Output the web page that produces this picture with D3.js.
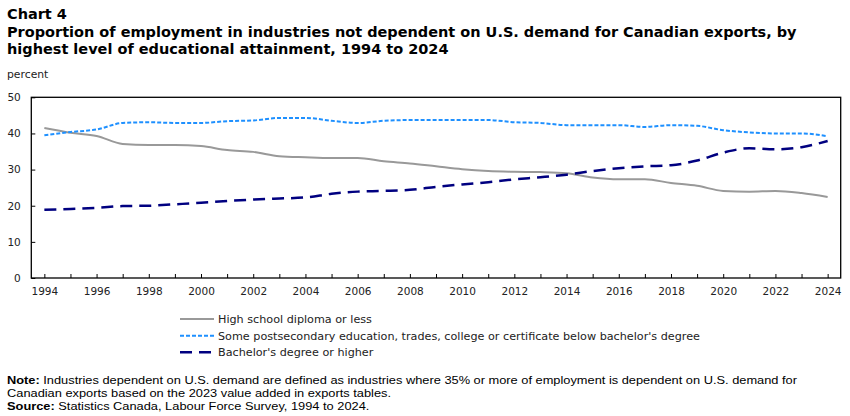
<!DOCTYPE html>
<html>
<head>
<meta charset="utf-8">
<script src="https://cdn.jsdelivr.net/npm/d3@7"></script>
<style>
  html, body { margin: 0; padding: 0; background: #fff; }
  svg { display: block; }
  .axis text { font-family: "DejaVu Sans", Verdana, sans-serif; font-size: 10.5px; fill: #222; }
  .axis line { stroke: #000; }
  .axis path { display: none; }
</style>
</head>
<body>
<svg id="chart" width="850" height="416"></svg>
<script>
const years = d3.range(1994, 2025);
const highSchool = [41.5, 40.2, 39.3, 37.1, 36.8, 36.8, 36.5, 35.4, 34.9, 33.7, 33.4, 33.2, 33.2, 32.3, 31.7, 30.9, 30.1, 29.6, 29.4, 29.3, 29.0, 27.8, 27.3, 27.3, 26.3, 25.5, 24.1, 23.9, 24.1, 23.5, 22.4];
const postsecondary = [39.5, 40.4, 41.1, 42.9, 43.1, 42.9, 42.9, 43.4, 43.6, 44.3, 44.3, 43.5, 42.9, 43.5, 43.7, 43.7, 43.7, 43.7, 43.1, 42.9, 42.3, 42.3, 42.3, 41.8, 42.3, 42.1, 40.9, 40.3, 40.0, 40.0, 39.2];
const bachelor = [18.9, 19.1, 19.4, 19.9, 20.0, 20.4, 20.8, 21.3, 21.7, 22.0, 22.3, 23.3, 23.9, 24.1, 24.4, 25.2, 25.9, 26.5, 27.3, 27.9, 28.6, 29.6, 30.4, 30.9, 31.2, 32.5, 34.7, 35.9, 35.6, 36.2, 37.9];
const yTicks = [0, 10, 20, 30, 40, 50];
const seriesNames = ["High school diploma or less", "Some postsecondary education, trades, college or certificate below bachelor's degree", "Bachelor's degree or higher"];
const titleLines = ["Chart 4", "Proportion of employment in industries not dependent on U.S. demand for Canadian exports, by", "highest level of educational attainment, 1994 to 2024"];
const noteText = "Industries dependent on U.S. demand are defined as industries where 35% or more of employment is dependent on U.S. demand for";
const noteText2 = "Canadian exports based on the 2023 value added in exports tables.";
const sourceText = "Statistics Canada, Labour Force Survey, 1994 to 2024.";

const series = [
  { name: seriesNames[0], values: highSchool, color: "#999999", width: 2, dash: null },
  { name: seriesNames[1], values: postsecondary, color: "#1e90ff", width: 2, dash: "4,2" },
  { name: seriesNames[2], values: bachelor, color: "#000080", width: 2.5, dash: "12,7" }
];

const svg = d3.select("#chart");
const L = 31.3, R = 840.7, T = 97.3, B = 278;

const x = d3.scalePoint().domain(years).range([L, R]).padding(0.5);
const y = d3.scaleLinear().domain([0, 50]).range([B, T]);

// Title
const title = svg.append("g").attr("font-family", "'DejaVu Sans', Verdana, sans-serif").attr("font-weight", "bold").attr("font-size", "14px").attr("fill", "#000");
title.append("text").attr("x", 7).attr("y", 19).text(titleLines[0]);
const t2 = title.append("text").attr("x", 7).attr("y", 37).text(titleLines[1]);
title.append("text").attr("x", 7).attr("y", 54).text(titleLines[2]);
const tw = t2.node().getComputedTextLength();
if (tw > 0) title.attr("font-size", Math.min(16, 14 * 790 / tw) + "px");

svg.append("text").attr("x", 7).attr("y", 78).attr("font-family", "'DejaVu Sans', Verdana, sans-serif").attr("font-size", "10.8px").attr("fill", "#222").text("percent");

// Axes
svg.append("g").attr("class", "axis").attr("transform", `translate(0,${B})`)
  .call(d3.axisBottom(x).tickSize(-4).tickPadding(10).tickFormat(d => d % 2 === 0 ? d : ""));
svg.append("g").attr("class", "axis").attr("transform", `translate(${L},0)`)
  .call(d3.axisLeft(y).tickValues(yTicks).tickSize(-4).tickPadding(10.5));

// Lines
const line = d3.line().x((d, i) => x(years[i])).y(d => y(d)).curve(d3.curveMonotoneX);
series.forEach(s => {
  svg.append("path").datum(s.values)
    .attr("fill", "none").attr("stroke", s.color).attr("stroke-width", s.width)
    .attr("stroke-dasharray", s.dash).attr("d", line);
});

// Frame
svg.append("rect").attr("x", L).attr("y", T).attr("width", R - L).attr("height", B - T)
  .attr("fill", "none").attr("stroke", "#000").attr("stroke-width", 1.3);

// Legend
const legY = [319, 335.7, 352.3];
const leg = svg.append("g");
series.forEach((s, i) => {
  leg.append("line").attr("x1", 180).attr("x2", 214).attr("y1", legY[i]).attr("y2", legY[i])
    .attr("stroke", s.color).attr("stroke-width", s.width).attr("stroke-dasharray", s.dash);
  leg.append("text").attr("x", 218).attr("y", legY[i]).attr("dy", "0.35em")
    .attr("font-family", "'DejaVu Sans', Verdana, sans-serif").attr("font-size", "11.2px").attr("fill", "#222")
    .text(s.name);
});

// Notes (narrow face: fit width with textLength)
const notes = svg.append("g").attr("font-family", "'Liberation Sans', Arial, sans-serif").attr("font-size", "11.5px").attr("fill", "#000");
const n1 = notes.append("text").attr("x", 7).attr("y", 384);
n1.append("tspan").attr("font-weight", "bold").text("Note:");
n1.append("tspan").text(" " + noteText);
const n2 = notes.append("text").attr("x", 7).attr("y", 397).text(noteText2);
const s1 = notes.append("text").attr("x", 7).attr("y", 410);
s1.append("tspan").attr("font-weight", "bold").text("Source:");
s1.append("tspan").text(" " + sourceText);
const w1 = n1.node().getComputedTextLength();
if (w1 > 0) {
  const f = 790 / w1;
  [n1, n2, s1].forEach(t => {
    const w = t.node().getComputedTextLength();
    t.attr("textLength", w * f).attr("lengthAdjust", "spacingAndGlyphs");
  });
}
</script>
</body>
</html>
